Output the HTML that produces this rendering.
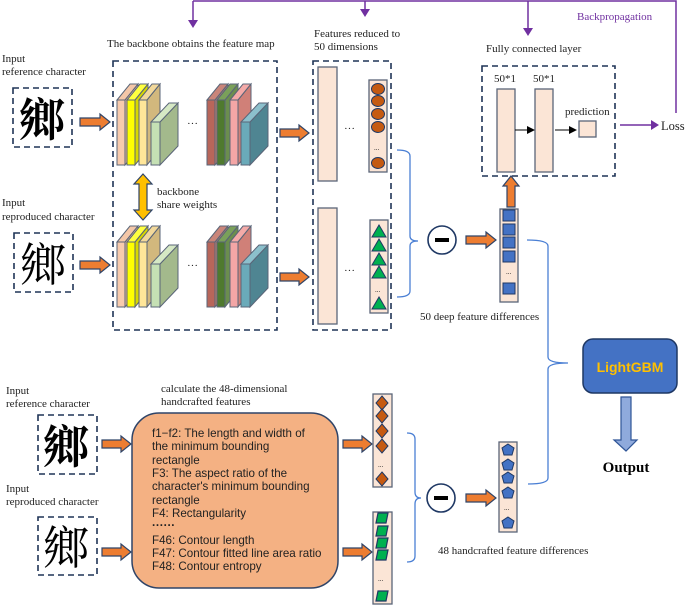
<!DOCTYPE html>
<html><head><meta charset="utf-8"><style>
html,body{margin:0;padding:0;background:#fff}
svg{display:block}
.s{font-family:"Liberation Serif",serif;font-size:11px;fill:#222}
.f{font-family:"Liberation Sans",sans-serif;font-size:11.6px;fill:#222}
.cj{font-family:"Liberation Serif","Noto Serif CJK SC",serif;font-size:46px;fill:#000}
.dash{fill:none;stroke:#1f3456;stroke-width:1.6;stroke-dasharray:6,4}
.ar{fill:#ed7d31;stroke:#2f4468;stroke-width:1.2}
.col{fill:#fbe5d6;stroke:#5a6578;stroke-width:1.3}
.br{fill:none;stroke:#4a7fd4;stroke-width:1.3}
.pu{stroke:#7030a0;stroke-width:1.5;fill:none}
.lay{stroke:#5a6578;stroke-width:1}
</style></head><body>
<svg width="685" height="605" viewBox="0 0 685 605" xmlns="http://www.w3.org/2000/svg">
<!-- backprop -->
<path class="pu" d="M193,1 H676 V113"/>
<path class="pu" d="M193,1 V22 M365,1 V11 M528,1 V30 M620,125 H652"/>
<path d="M188,20 L198,20 L193,28Z M360,9 L370,9 L365,17Z M523,28 L533,28 L528,36Z M651,120 L659,125 L651,130Z" fill="#7030a0"/>
<text x="577" y="20" class="s" fill="#7030a0" style="fill:#7030a0">Backpropagation</text>
<text x="661" y="130" class="s" style="font-size:12.5px">Loss</text>

<!-- labels -->
<text x="107" y="47" class="s">The backbone obtains the feature map</text>
<text x="2" y="62" class="s">Input</text>
<text x="2" y="75" class="s">reference character</text>
<text x="2" y="206" class="s">Input</text>
<text x="2" y="220" class="s">reproduced character</text>
<text x="314" y="37" class="s">Features reduced to</text>
<text x="314" y="50" class="s">50 dimensions</text>
<text x="486" y="52" class="s">Fully connected layer</text>
<text x="157" y="195" class="s">backbone</text>
<text x="157" y="208" class="s">share weights</text>
<text x="420" y="320" class="s">50 deep feature differences</text>

<!-- char boxes -->
<rect x="13" y="88" width="59" height="59" class="dash"/>
<text x="19" y="136" class="cj" style="font-weight:bold">鄉</text>
<rect x="14" y="233" width="59" height="59" class="dash"/>
<text x="20" y="281" class="cj">鄉</text>

<!-- backbone box -->
<rect x="113" y="61" width="164" height="269" class="dash"/>

<!-- layers top -->
<g class="lay">
<g id="lt">
<polygon points="125,100 138,84 138,149 125,165" fill="#e9b89a"/><polygon points="117,100 130,84 138,84 125,100" fill="#f4c7a8"/><rect x="117" y="100" width="8" height="65" fill="#f8cbad"/>
<polygon points="135,100 148,84 148,149 135,165" fill="#d8d800"/><polygon points="127,100 140,84 148,84 135,100" fill="#ffff40"/><rect x="127" y="100" width="8" height="65" fill="#ffff00"/>
<polygon points="147,100 160,84 160,149 147,165" fill="#d2b87d"/><polygon points="139,100 152,84 160,84 147,100" fill="#f2d89a"/><rect x="139" y="100" width="8" height="65" fill="#ffe699"/>
<polygon points="160,122 178,103 178,146 160,165" fill="#a3b98c"/><polygon points="151,122 169,103 178,103 160,122" fill="#d5e8c4"/><rect x="151" y="122" width="9" height="43" fill="#c5e0b4"/>
<polygon points="215,100 228,84 228,149 215,165" fill="#c08070"/><polygon points="207,100 220,84 228,84 215,100" fill="#c9857a"/><rect x="207" y="100" width="8" height="65" fill="#b8665a"/>
<polygon points="225,100 238,84 238,149 225,165" fill="#6b8e4e"/><polygon points="217,100 230,84 238,84 225,100" fill="#7aa05a"/><rect x="217" y="100" width="8" height="65" fill="#4f7a2e"/>
<polygon points="238,100 251,84 251,149 238,165" fill="#d08078"/><polygon points="230,100 243,84 251,84 238,100" fill="#f4aaa8"/><rect x="230" y="100" width="8" height="65" fill="#f4a6a6"/>
<polygon points="250,122 268,103 268,146 250,165" fill="#4f8592"/><polygon points="241,122 259,103 268,103 250,122" fill="#8cc0cc"/><rect x="241" y="122" width="9" height="43" fill="#6aaab9"/>
</g>
<use href="#lt" y="142"/>
</g>
<text x="187" y="127" class="s">···</text>
<text x="187" y="269" class="s">···</text>
<path d="M143,174 L152,184 H147 V210 H152 L143,220 L134,210 H139 V184 H134Z" fill="#ffc000" stroke="#2f4468" stroke-width="1.2"/>

<!-- arrows -->
<g class="ar">
<path d="M80,118 H100 V114 L110,122 L100,130 V126 H80Z"/>
<path d="M80,261 H100 V257 L110,265 L100,273 V269 H80Z"/>
<path d="M280,129 H299 V125 L309,133 L299,141 V137 H280Z"/>
<path d="M280,273 H299 V269 L309,277 L299,285 V281 H280Z"/>
<path d="M466,236 H486 V232 L496,240 L486,248 V244 H466Z"/>
<path d="M507,207 V186 H503 L511,176 L519,186 H515 V207Z"/>
<path d="M102,440 H121 V436 L131,444 L121,452 V448 H102Z"/>
<path d="M102,548 H121 V544 L131,552 L121,560 V556 H102Z"/>
<path d="M343,440 H362 V436 L372,444 L362,452 V448 H343Z"/>
<path d="M343,548 H362 V544 L372,552 L362,560 V556 H343Z"/>
<path d="M466,494 H486 V490 L496,498 L486,506 V502 H466Z"/>
</g>

<!-- features box -->
<rect x="313" y="61" width="78" height="269" class="dash"/>
<rect x="318" y="67" width="19" height="114" class="col"/>
<rect x="318" y="208" width="19" height="116" class="col"/>
<text x="344" y="132" class="s">···</text>
<text x="344" y="274" class="s">···</text>
<rect x="369" y="80" width="18" height="92" class="col"/>
<g fill="#c55a11" stroke="#1f3864" stroke-width="1">
<ellipse cx="378" cy="89" rx="6.5" ry="5.5"/><ellipse cx="378" cy="101" rx="6.5" ry="5.5"/><ellipse cx="378" cy="114" rx="6.5" ry="5.5"/><ellipse cx="378" cy="127" rx="6.5" ry="5.5"/><ellipse cx="378" cy="163" rx="6.5" ry="5.5"/>
</g>
<text x="374" y="150" class="s" style="font-size:7px">...</text>
<rect x="370" y="220" width="18" height="93" class="col"/>
<g fill="#00b050" stroke="#1f3864" stroke-width="1">
<path d="M379,225 L386,237 H372Z"/><path d="M379,239 L386,251 H372Z"/><path d="M379,253 L386,265 H372Z"/><path d="M379,266 L386,278 H372Z"/><path d="M379,297 L386,309 H372Z"/>
</g>
<text x="375" y="292" class="s" style="font-size:7px">...</text>

<!-- brackets -->
<path class="br" d="M397,150 Q410,150 410,156 V236 Q410,241 418,241 Q410,241 410,246 V291 Q410,297 397,297"/>
<path class="br" d="M527,240 Q548,240 548,246 V357 Q548,363 568,363 Q548,363 548,369 V478 Q548,484 528,484"/>
<path class="br" d="M407,433 Q415,433 415,439 V492 Q415,498 421,498 Q415,498 415,504 V556 Q415,562 407,562"/>

<!-- minus circles -->
<circle cx="442" cy="240" r="14" fill="#fff" stroke="#1f3864" stroke-width="1.6"/>
<rect x="435" y="238" width="14" height="4" fill="#000"/>
<circle cx="441" cy="498" r="14" fill="#fff" stroke="#1f3864" stroke-width="1.6"/>
<rect x="434" y="496" width="14" height="4" fill="#000"/>

<!-- deep diff column -->
<rect x="500" y="209" width="18" height="93" class="col"/>
<g fill="#4472c4" stroke="#1f3864" stroke-width="1">
<rect x="503" y="210" width="12" height="11"/><rect x="503" y="224" width="12" height="11"/><rect x="503" y="237" width="12" height="11"/><rect x="503" y="251" width="12" height="11"/><rect x="503" y="283" width="12" height="11"/>
</g>
<text x="506" y="274" class="s" style="font-size:7px">...</text>

<!-- FC -->
<rect x="482" y="66" width="133" height="110" class="dash"/>
<text x="494" y="82" class="s">50*1</text>
<text x="533" y="82" class="s">50*1</text>
<rect x="497" y="89" width="18" height="83" class="col"/>
<rect x="535" y="89" width="18" height="83" class="col"/>
<path d="M515,130 H528 M555,130 H569" stroke="#000" stroke-width="1"/>
<path d="M527,126 L535,130 L527,134Z M569,126 L577,130 L569,134Z" fill="#000"/>
<rect x="579" y="121" width="17" height="16" class="col"/>
<text x="565" y="115" class="s">prediction</text>

<!-- lower section -->
<text x="6" y="394" class="s">Input</text>
<text x="6" y="407" class="s">reference character</text>
<text x="6" y="492" class="s">Input</text>
<text x="6" y="505" class="s">reproduced character</text>
<rect x="38" y="415" width="59" height="59" class="dash"/>
<text x="43" y="463" class="cj" style="font-weight:bold">鄉</text>
<rect x="38" y="517" width="59" height="58" class="dash"/>
<text x="43" y="564" class="cj">鄉</text>
<text x="161" y="392" class="s">calculate  the 48-dimensional</text>
<text x="161" y="405" class="s">handcrafted features</text>
<rect x="132" y="413" width="206" height="175" rx="27" fill="#f4b183" stroke="#2f4468" stroke-width="1.5"/>
<g class="f">
<text x="152" y="437">f1−f2: The length and width of</text>
<text x="152" y="450">the minimum bounding</text>
<text x="152" y="464">rectangle</text>
<text x="152" y="477">F3: The aspect ratio of the</text>
<text x="152" y="490">character's minimum bounding</text>
<text x="152" y="504">rectangle</text>
<text x="152" y="517">F4: Rectangularity</text>
<text x="152" y="529" style="font-weight:bold">······</text>
<text x="152" y="544">F46: Contour length</text>
<text x="152" y="557">F47: Contour fitted line area ratio</text>
<text x="152" y="570">F48: Contour entropy</text>
</g>
<rect x="373" y="394" width="19" height="93" class="col"/>
<g fill="#c55a11" stroke="#1f3864" stroke-width="1">
<path d="M382,396 L388,403 L382,410 L376,403Z"/><path d="M382,409 L388,416 L382,423 L376,416Z"/><path d="M382,424 L388,431 L382,438 L376,431Z"/><path d="M382,439 L388,446 L382,453 L376,446Z"/><path d="M382,472 L388,479 L382,486 L376,479Z"/>
</g>
<text x="378" y="467" class="s" style="font-size:7px">...</text>
<rect x="373" y="512" width="19" height="92" class="col"/>
<g fill="#00b050" stroke="#1f3864" stroke-width="1.2">
<path d="M378,513 H388 L386,523 H376Z"/><path d="M378,526 H388 L386,536 H376Z"/><path d="M378,538 H388 L386,548 H376Z"/><path d="M378,550 H388 L386,560 H376Z"/><path d="M378,591 H388 L386,601 H376Z"/>
</g>
<text x="378" y="581" class="s" style="font-size:7px">...</text>

<rect x="499" y="442" width="18" height="90" class="col"/>
<g fill="#4472c4" stroke="#1f3864" stroke-width="1">
<path d="M508,444 L514,448 L512,455 L504,455 L502,448Z"/><path d="M508,459 L514,463 L512,470 L504,470 L502,463Z"/><path d="M508,472 L514,476 L512,483 L504,483 L502,476Z"/><path d="M508,487 L514,491 L512,498 L504,498 L502,491Z"/><path d="M508,517 L514,521 L512,528 L504,528 L502,521Z"/>
</g>
<text x="504" y="510" class="s" style="font-size:7px">...</text>
<text x="438" y="554" class="s">48 handcrafted feature differences</text>

<!-- LightGBM -->
<rect x="583" y="339" width="94" height="54" rx="10" fill="#4472c4" stroke="#1f3864" stroke-width="1.5"/>
<text x="630" y="372" text-anchor="middle" style="font-family:'Liberation Sans',sans-serif;font-size:14px;font-weight:bold;fill:#ffc000">LightGBM</text>
<path d="M621,397 H631 V440 H637 L626,451 L614,440 H621Z" fill="#8faadc" stroke="#2f5597" stroke-width="1.2"/>
<text x="626" y="472" text-anchor="middle" style="font-family:'Liberation Serif',serif;font-size:15px;font-weight:bold;fill:#000">Output</text>
</svg>
</body></html>
